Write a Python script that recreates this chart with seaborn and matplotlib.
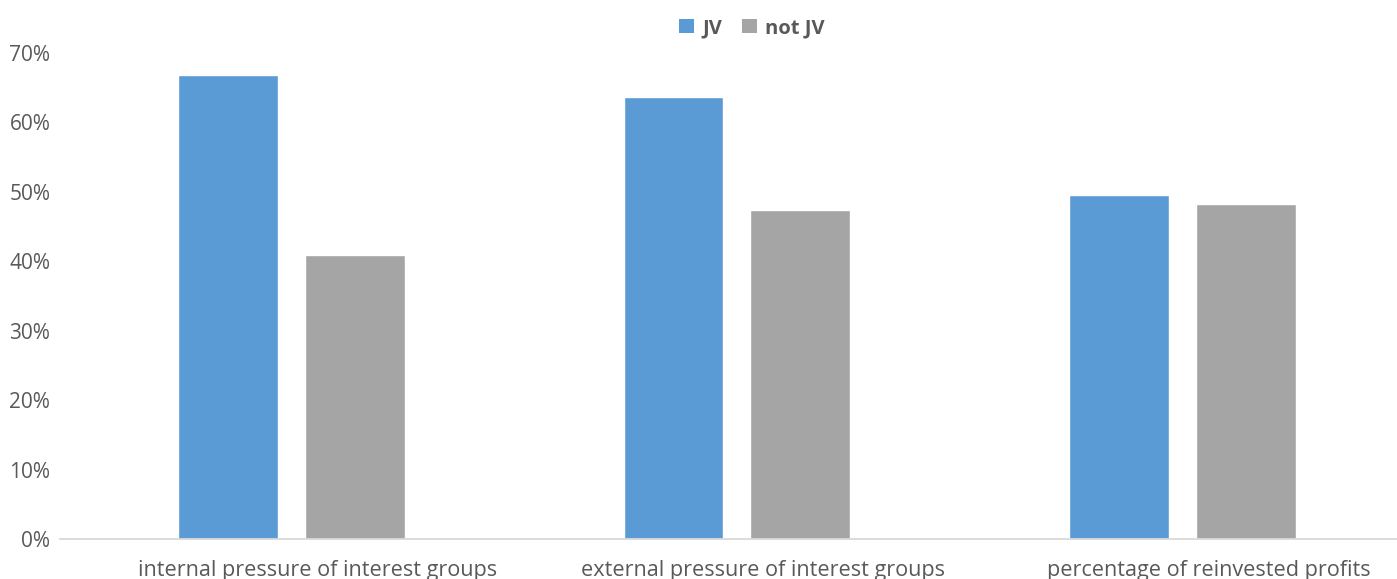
import matplotlib
matplotlib.use("Agg")
import matplotlib.pyplot as plt
import matplotlib.transforms as mtransforms
import seaborn as sns
import pandas as pd
from matplotlib.ticker import PercentFormatter, MultipleLocator
from matplotlib.patches import Patch

categories = ["internal pressure of interest groups",
              "external pressure of interest groups",
              "percentage of reinvested profits"]
jv = [0.668, 0.637, 0.495]
not_jv = [0.409, 0.474, 0.483]
series = ["JV", "not JV"]
colors = ["#5B9BD5", "#A5A5A5"]

df = pd.DataFrame({
    "category": categories * 2,
    "value": jv + not_jv,
    "series": [series[0]] * 3 + [series[1]] * 3,
})

sns.set_style("white")
plt.rcParams["font.family"] = ["Open Sans", "DejaVu Sans"]
text_color = "#595959"

W, H = 1397, 579
fig = plt.figure(figsize=(W / 100, H / 100), dpi=100)
ax = fig.add_axes([60 / W, (H - 539) / H, (1397 - 60) / W, (539 - 53) / H])

sns.barplot(data=df, x="category", y="value", hue="series",
            palette=colors, width=0.57, gap=0.213, ax=ax,
            saturation=1, legend=False, errorbar=None)

ax.set_xlim(-0.52, 2.482)
ax.set_ylim(0, 0.7)
ax.yaxis.set_major_locator(MultipleLocator(0.1))
ax.yaxis.set_major_formatter(PercentFormatter(1.0, decimals=0))
for s in ["top", "right", "left"]:
    ax.spines[s].set_visible(False)
ax.spines["bottom"].set_color("#D9D9D9")
ax.spines["bottom"].set_linewidth(1.3)
ax.tick_params(axis="both", length=0, colors=text_color)
ax.tick_params(axis="y", pad=7, labelsize=15)
ax.tick_params(axis="x", pad=15, labelsize=15.6)
ax.set_xlabel("")
ax.set_ylabel("")

offset = mtransforms.ScaledTranslation(26 / 100, 0, fig.dpi_scale_trans)
for lbl in ax.get_xticklabels():
    lbl.set_transform(lbl.get_transform() + offset)

handles = [Patch(facecolor=c, edgecolor="none") for c in colors]
leg = fig.legend(handles, series, loc="center", bbox_to_anchor=(752 / W, 1 - 28 / H),
                 ncol=2, frameon=False, handlelength=0.75, handleheight=0.75,
                 handletextpad=0.4, columnspacing=1.0,
                 prop={"size": 14.5, "weight": "bold"})
for t in leg.get_texts():
    t.set_color(text_color)

fig.savefig("out.png", dpi=100)
